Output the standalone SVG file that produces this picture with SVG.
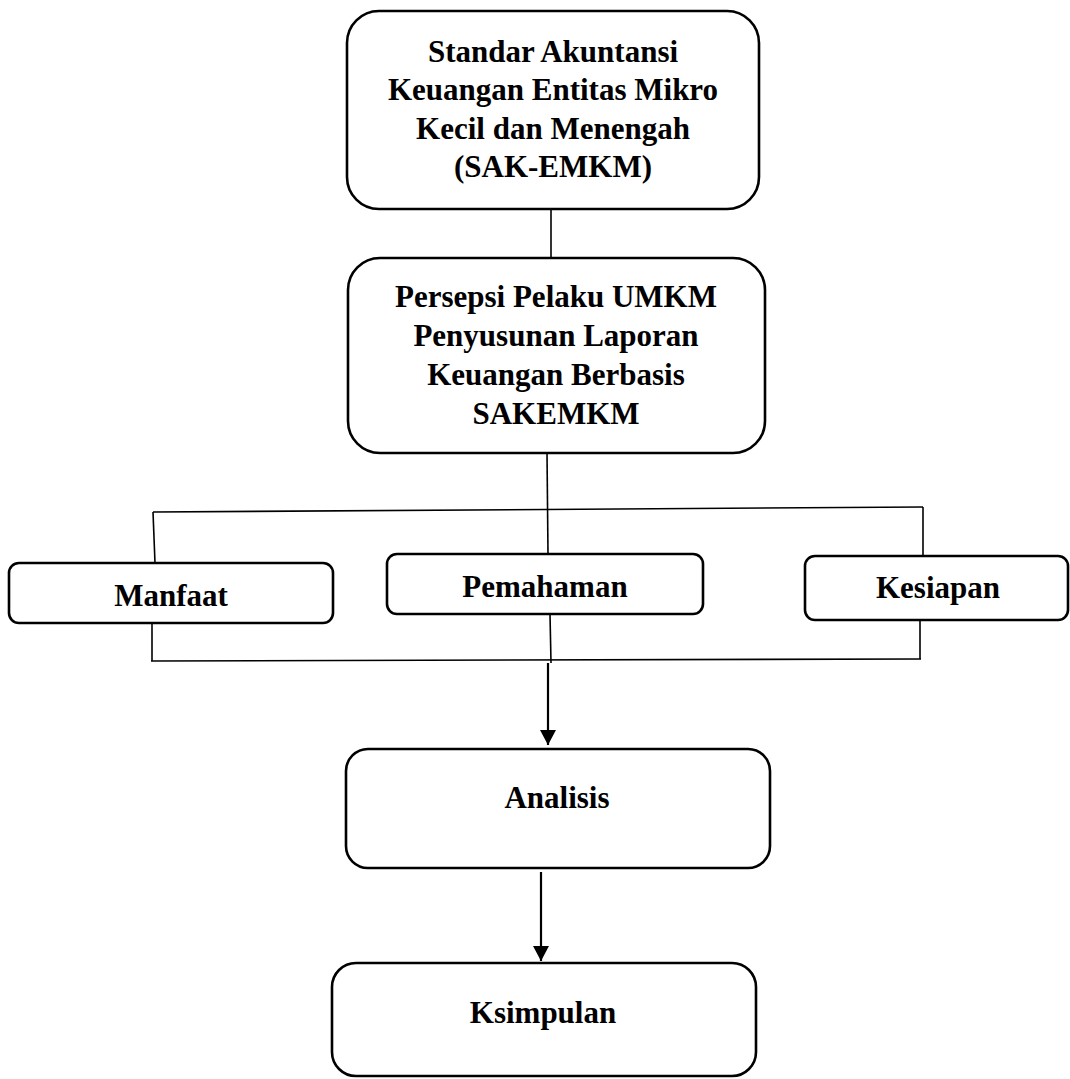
<svg xmlns="http://www.w3.org/2000/svg" width="1070" height="1079" viewBox="0 0 1070 1079">
<style>
.box{fill:#fff;stroke:#000;stroke-width:2.6}
.lbl{font-family:"Liberation Serif","Times New Roman",serif;font-weight:bold;font-size:31px;fill:#000;text-anchor:middle}
.ln{stroke:#000;stroke-width:1.6;fill:none}
.ar{stroke:#000;stroke-width:2.2;fill:none}
</style>
<defs>
<marker id="ah" markerUnits="userSpaceOnUse" markerWidth="16" markerHeight="16" refX="15" refY="8" orient="auto">
<path d="M0,0 L15,8 L0,16 Z" fill="#000"/>
</marker>
</defs>
<rect width="1070" height="1079" fill="#fff"/>
<g id="connectors">
<line class="ln" x1="551" y1="209" x2="551" y2="258"/>
<line class="ln" x1="547" y1="453" x2="548" y2="554"/>
<line class="ln" x1="153" y1="512" x2="923" y2="507"/>
<line class="ln" x1="153" y1="512" x2="155" y2="563"/>
<line class="ln" x1="923" y1="507" x2="923" y2="556"/>
<line class="ln" x1="152" y1="623" x2="152" y2="661"/>
<line class="ln" x1="550" y1="614" x2="551" y2="663"/>
<line class="ln" x1="920" y1="620" x2="920" y2="659"/>
<line class="ln" x1="151" y1="661" x2="921" y2="659"/>
<line class="ar" x1="548" y1="663" x2="548" y2="745" marker-end="url(#ah)"/>
<line class="ar" x1="541" y1="872" x2="541" y2="961" marker-end="url(#ah)"/>
</g>
<g id="node-sakemkm">
<rect class="box" x="347" y="11" width="412" height="198" rx="32"/>
<text class="lbl" x="553" y="62">Standar Akuntansi</text>
<text class="lbl" x="553" y="100">Keuangan Entitas Mikro</text>
<text class="lbl" x="553" y="139">Kecil dan Menengah</text>
<text class="lbl" x="553" y="177">(SAK-EMKM)</text>
</g>
<g id="node-persepsi">
<rect class="box" x="348" y="258" width="417" height="195" rx="32"/>
<text class="lbl" x="556" y="307">Persepsi Pelaku UMKM</text>
<text class="lbl" x="556" y="346">Penyusunan Laporan</text>
<text class="lbl" x="556" y="385">Keuangan Berbasis</text>
<text class="lbl" x="556" y="424">SAKEMKM</text>
</g>
<g id="node-manfaat">
<rect class="box" x="9" y="563" width="324" height="60" rx="10"/>
<text class="lbl" x="171" y="606">Manfaat</text>
</g>
<g id="node-pemahaman">
<rect class="box" x="387" y="554" width="316" height="60" rx="10"/>
<text class="lbl" x="545" y="597">Pemahaman</text>
</g>
<g id="node-kesiapan">
<rect class="box" x="805" y="556" width="263" height="64" rx="10"/>
<text class="lbl" x="938" y="598">Kesiapan</text>
</g>
<g id="node-analisis">
<rect class="box" x="346" y="749" width="424" height="119" rx="22"/>
<text class="lbl" x="557" y="808">Analisis</text>
</g>
<g id="node-ksimpulan">
<rect class="box" x="332" y="963" width="424" height="113" rx="24"/>
<text class="lbl" x="543" y="1023">Ksimpulan</text>
</g>
</svg>
